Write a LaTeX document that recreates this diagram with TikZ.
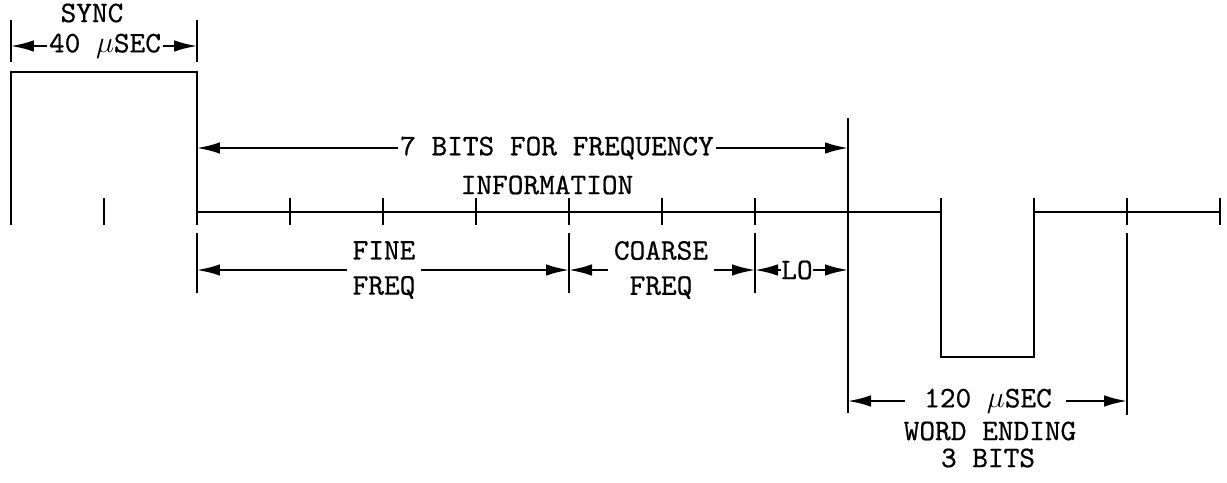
\documentclass[tikz,border=0pt]{standalone}
\usepackage{fontspec}
\newfontfamily\typefont{lmmono10-regular}[Extension=.otf, FakeBold=0.6]
\usetikzlibrary{arrows.meta}

\begin{document}
\begin{tikzpicture}[
    x=0.02cm, y=-0.02cm,
    font=\typefont\fontsize{17}{20}\selectfont,
    >={Latex[length=4.6mm, width=2.3mm]},
    wave/.style={line width=1.6pt},
    tick/.style={line width=1.2pt},
    dim/.style={line width=1.1pt, ->},
    lbl/.style={inner sep=1pt, align=center},
  ]
  \useasboundingbox (0,0) rectangle (1227,483);
  % Bit boundaries on the baseline.
  \foreach \i in {0,...,13}
    \coordinate (t\i) at ({11+93*\i},212);
  \foreach \i in {0,...,13}
    \draw[tick] (t\i) ++(0,-14) -- ++(0,27);
  % Pulse train: sync and word ending.
  \draw[wave] (t0) -- ++(0,-140) -| (t2) -- (t10) -- ++(0,145) -| (t11) -- (t13);
  % Extension lines.
  \draw[tick] (t0) ++(0,-192) -- ++(0,42);
  \draw[tick] (t2) ++(0,-192) -- ++(0,42);
  \draw[tick] (t2) ++(0,21) -- ++(0,60);
  \draw[tick] (t6) ++(0,21) -- ++(0,60);
  \draw[tick] (t8) ++(0,21) -- ++(0,60);
  \draw[tick] (t9) ++(0,-94) -- ++(0,295);
  \draw[tick] (t12) ++(0,21) -- ++(0,182);
  % Labels.
  \node[lbl, inner sep=0pt] (sync) at (92,13) {SYNC};
  \node[lbl] (syncw)  at (105,46)  {40 $\mu$SEC};
  \node[lbl] (bits)   at (557,148) {7 BITS FOR FREQUENCY};
  \node[lbl] (info)   at (547,185) {INFORMATION};
  \node[lbl] (fine)   at (384,270) {FINE\\FREQ};
  \node[lbl] (coarse) at (661,270) {COARSE\\FREQ};
  \node[lbl, inner sep=0pt] (lo) at (797,270) {LO};
  \node[lbl] (word)   at (988,401) {120 $\mu$SEC};
  \node[lbl] (wend)   at (990,431) {WORD ENDING};
  \node[lbl] (wbits)  at (988,458) {3 BITS};
  % Dimension arrows.
  \draw[dim] (syncw.west) -- (t0 |- syncw.west);
  \draw[dim] (syncw.east) -- (t2 |- syncw.east);
  \draw[dim] (bits.west) -- (t2 |- bits.west);
  \draw[dim] (bits.east) -- (t9 |- bits.east);
  \draw[dim] ([xshift=-2pt]fine.west) -- (t2 |- fine.west);
  \draw[dim] ([xshift=2pt]fine.east) -- (t6 |- fine.east);
  \draw[dim] ([xshift=-2pt]coarse.west) -- (t6 |- coarse.west);
  \draw[dim] ([xshift=2pt]coarse.east) -- (t8 |- coarse.east);
  \draw[dim] (lo.west) -- (t8 |- lo.west);
  \draw[dim] (lo.east) -- (t9 |- lo.east);
  \draw[dim] ([xshift=-10pt]word.west) -- (t9 |- word.west);
  \draw[dim] ([xshift=7pt]word.east) -- (t12 |- word.east);
\end{tikzpicture}
\end{document}
